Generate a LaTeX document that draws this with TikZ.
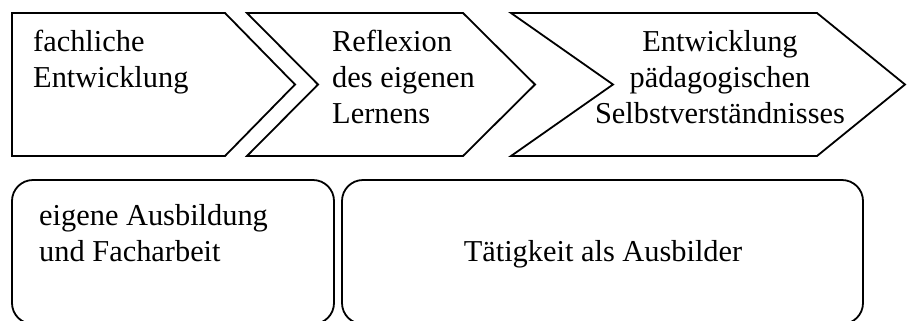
\documentclass[tikz,border=0pt]{standalone}
\usepackage{fontspec}
\setmainfont{Liberation Serif}
\begin{document}
\begin{tikzpicture}[x=1bp,y=-1bp,
  shp/.style={draw=black,line width=1.8bp,line join=miter},
  rbox/.style={draw=black,line width=1.8bp,rounded corners=21bp},
  lbl/.style={inner sep=0pt,font=\fontsize{30.5}{36}\selectfont}]
\useasboundingbox (0,0) rectangle (907,320);
\clip (-2,-2) rectangle (909,320);
% chevrons
\draw[shp] (12,13) -- (225,13) -- (295,84.5) -- (225,156) -- (12,156) -- cycle;
\draw[shp] (247,13) -- (463,13) -- (535,84.5) -- (463,156) -- (247,156) -- (318,84.5) -- cycle;
\draw[shp] (511,13) -- (817,13) -- (905,84.5) -- (817,156) -- (511,156) -- (613,84.5) -- cycle;
% rounded boxes
\draw[rbox] (12,180) rectangle (334,324);
\draw[rbox] (342,180) rectangle (863,324);
% texts (base anchor = baseline of last line)
\node[lbl,anchor=base west,align=left] (t1) at (33,87) {fachliche\\Entwicklung};
\node[lbl,anchor=base west,align=left] (t2) at (332,123) {Reflexion\\des eigenen\\Lernens};
\node[lbl,anchor=base,align=center] (t3) at (720,123) {Entwicklung\\pädagogischen\\Selbstverständnisses};
\node[lbl,anchor=base west,align=left] (b1) at (39,261) {eigene Ausbildung\\und Facharbeit};
\node[lbl,anchor=base] (b2) at (603,261) {Tätigkeit als Ausbilder};
\end{tikzpicture}
\end{document}
